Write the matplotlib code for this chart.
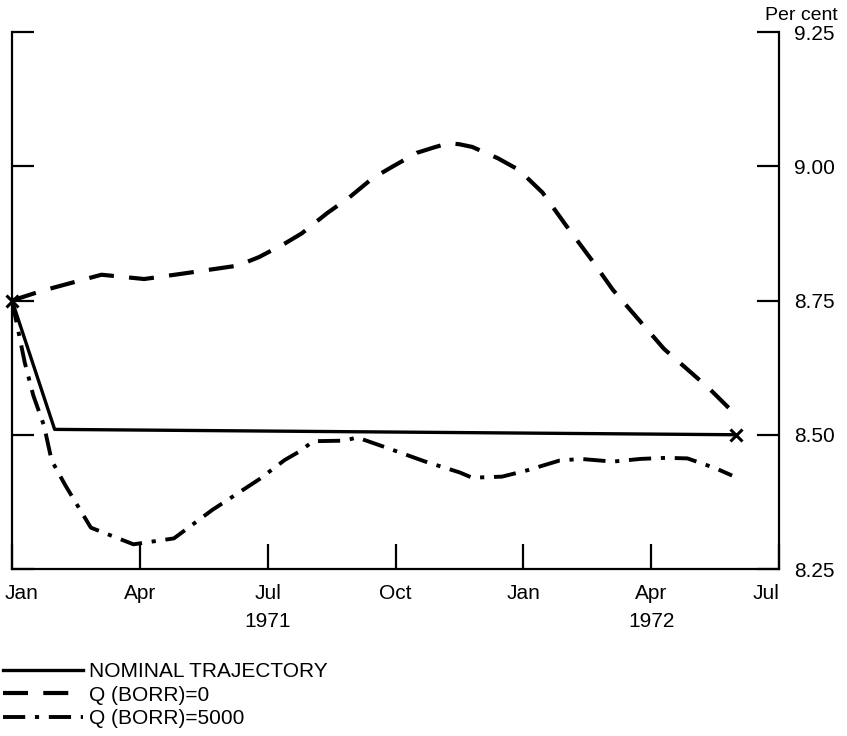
import matplotlib
matplotlib.use("Agg")
import matplotlib.pyplot as plt
import matplotlib.transforms as mtransforms

plt.rcParams["font.family"] = ["Liberation Sans", "DejaVu Sans"]
plt.rcParams["lines.scale_dashes"] = False

# months counted from Jan 1971
nominal_m = [0, 1, 17]
nominal_v = [8.75, 8.51, 8.50]

borr0_m = [0, 0.7, 2.1, 3.1, 4.0, 5.3, 5.8, 6.4, 6.8, 7.4, 7.9, 8.45, 8.9,
           9.5, 9.9, 10.25, 10.5, 10.8, 11.4, 11.9, 12.45, 13.0, 13.6,
           14.1, 15.3, 16.35, 17.05]
borr0_v = [8.75, 8.768, 8.798, 8.79, 8.80, 8.815, 8.831, 8.856, 8.875,
           8.913, 8.941, 8.977, 8.998, 9.025, 9.035, 9.043, 9.041, 9.036,
           9.015, 8.993, 8.951, 8.89, 8.826, 8.77, 8.66, 8.587, 8.532]

borr5000_m = [0, 0.3, 0.5, 0.75, 0.93, 1.25, 1.85, 2.85, 3.8, 4.7, 5.8,
              6.4, 6.75, 7.07, 7.8, 8.1, 8.75, 9.7, 10.5, 10.8, 11.5, 12.1,
              12.85, 13.35, 14.1, 14.75, 15.35, 15.85, 16.5, 16.9]
borr5000_v = [8.75, 8.634, 8.573, 8.517, 8.452, 8.406, 8.327, 8.296, 8.307,
              8.36, 8.417, 8.453, 8.469, 8.488, 8.489, 8.495, 8.477, 8.45,
              8.43, 8.42, 8.422, 8.434, 8.452, 8.455, 8.45, 8.455, 8.457,
              8.456, 8.438, 8.424]

month_ticks = [0, 3, 6, 9, 12, 15, 18]
month_labels = ["Jan", "Apr", "Jul", "Oct", "Jan", "Apr", "Jul"]
year_pos = [6, 15]
year_labels = ["1971", "1972"]
pct_ticks = [8.25, 8.50, 8.75, 9.00, 9.25]

fig = plt.figure(figsize=(8.47, 7.36), dpi=100)
ax = fig.add_axes([0.0142, 0.2269, 0.9055, 0.7296])

ln_nom, = ax.plot(nominal_m, nominal_v, color="black", lw=2.4,
                  label="NOMINAL TRAJECTORY")
ln0, = ax.plot(borr0_m, borr0_v, color="black", lw=3.0,
               dashes=(18, 11), label="Q (BORR)=0")
ln5, = ax.plot(borr5000_m, borr5000_v, color="black", lw=2.8,
               dashes=(16, 7, 3, 7), label="Q (BORR)=5000")
# start and end points of the nominal path
ax.plot([nominal_m[0], nominal_m[-1]], [nominal_v[0], nominal_v[-1]],
        ls="none", marker="x", ms=8, mew=2.2, color="black", clip_on=False)

ax.set_xlim(0, 18)
ax.set_ylim(8.25, 9.25)
ax.spines["top"].set_visible(False)
for s in ("left", "right", "bottom"):
    ax.spines[s].set_linewidth(1.6)

ax.set_xticks(month_ticks)
ax.set_xticklabels(month_labels, fontsize=15)
ax.set_yticks(pct_ticks)
ax.set_yticklabels([f"{v:.2f}" for v in pct_ticks], fontsize=15)
ax.tick_params(axis="x", direction="in", length=18, width=1.6, pad=11)
ax.tick_params(axis="y", direction="in", length=16, width=1.6, pad=11,
               left=True, right=True, labelleft=False, labelright=True)

xl = ax.get_xticklabels()
xl[0].set_horizontalalignment("left")
xl[0].set_transform(xl[0].get_transform() +
                    mtransforms.ScaledTranslation(-7 / 100, 0, fig.dpi_scale_trans))
xl[-1].set_horizontalalignment("right")

trans = mtransforms.blended_transform_factory(ax.transData, ax.transAxes)
for xp, lab in zip(year_pos, year_labels):
    ax.text(xp, -0.097, lab, transform=trans, ha="center", va="center",
            fontsize=15)

fig.text(838 / 847, 1 - 15 / 736, "Per cent", ha="right", va="center",
         fontsize=14)

fig.legend(handles=[ln_nom, ln0, ln5], loc="upper left",
           bbox_to_anchor=(0.004, 1 - 662 / 736), frameon=False,
           fontsize=15, handlelength=3.8, handletextpad=0.3,
           labelspacing=0.22, borderpad=0, borderaxespad=0)

fig.savefig("out.png", dpi=100)
